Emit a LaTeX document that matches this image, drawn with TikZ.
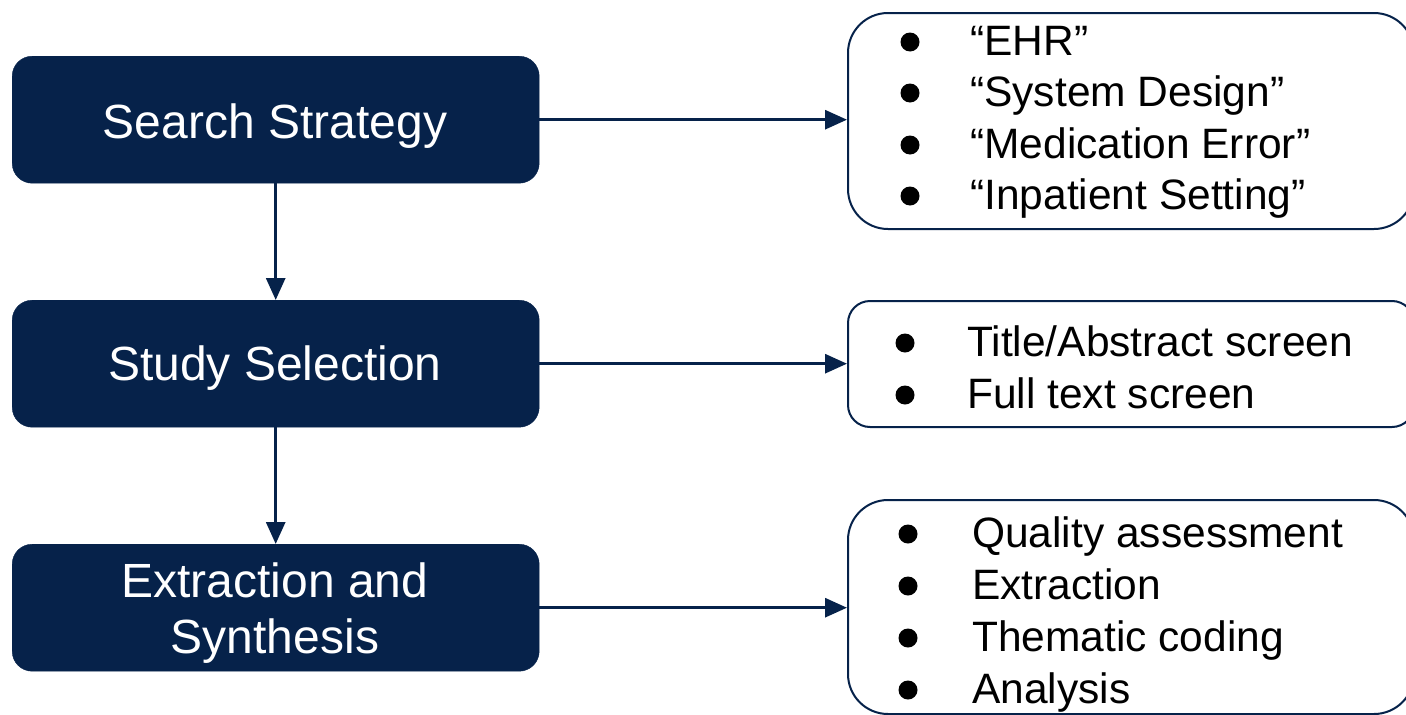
\documentclass[tikz,border=0pt]{standalone}
\usepackage{fontspec}
\setmainfont{Liberation Sans}
\usetikzlibrary{arrows.meta}
\definecolor{navy}{RGB}{6,34,74}
\begin{document}
\begin{tikzpicture}[x=1pt,y=-1pt,
  stepbox/.style={fill=navy,draw=navy,rounded corners=20pt,inner sep=0pt,
    minimum width=527pt,minimum height=127pt,anchor=north west},
  listbox/.style={draw=navy,line width=2pt,fill=white,rounded corners=40pt,inner sep=0pt,anchor=north west},
  big/.style={text=white,font=\fontsize{48}{56}\selectfont,anchor=base,inner sep=0pt},
  item/.style={text=black,font=\fontsize{42.5}{50}\selectfont,anchor=base west,inner sep=0pt},
  bul/.style={circle,fill=black,minimum size=19pt,inner sep=0pt},
  conn/.style={draw=navy,line width=3pt,-{Triangle[length=22pt,width=19pt]}}
]
\useasboundingbox (0,0) rectangle (1406,715);
% left step boxes
\node[stepbox] (s1) at (12,56) {};
\node[stepbox] (s2) at (12,300) {};
\node[stepbox] (s3) at (12,544) {};
\node[big] (t1) at (275,138) {Search Strategy};
\node[big] (t2) at (275,380) {Study Selection};
\node[big] (t3a) at (275,597) {Extraction and};
\node[big] (t3b) at (275,653) {Synthesis};
% right list boxes
\node[listbox,minimum width=566pt,minimum height=216pt] (r1) at (847,12) {};
\node[listbox,minimum width=566pt,minimum height=126pt,rounded corners=22pt] (r2) at (847,300) {};
\node[listbox,minimum width=566pt,minimum height=214pt] (r3) at (847,499) {};
% list A
\node[bul] (b11) at (910,42) {};
\node[bul] (b12) at (910,93) {};
\node[bul] (b13) at (910,145) {};
\node[bul] (b14) at (910,196) {};
\node[item] (i11) at (970,55) {“EHR”};
\node[item] (i12) at (970,106) {“System Design”};
\node[item] (i13) at (970,158) {“Medication Error”};
\node[item] (i14) at (970,209) {“Inpatient Setting”};
% list B
\node[bul] (b21) at (905,343) {};
\node[bul] (b22) at (905,395) {};
\node[item] (i21) at (967,356) {Title/Abstract screen};
\node[item] (i22) at (967,408) {Full text screen};
% list C
\node[bul] (b31) at (908,534) {};
\node[bul] (b32) at (908,586) {};
\node[bul] (b33) at (908,638) {};
\node[bul] (b34) at (908,690) {};
\node[item] (i31) at (972,547) {Quality assessment};
\node[item] (i32) at (972,599) {Extraction};
\node[item] (i33) at (972,651) {Thematic coding};
\node[item] (i34) at (972,703) {Analysis};
% connectors
\draw[conn] (s1.south) -- (s2.north);
\draw[conn] (s2.south) -- (s3.north);
\draw[conn] (s1.east) -- (s1.east -| r1.west);
\draw[conn] (s2.east) -- (s2.east -| r2.west);
\draw[conn] (s3.east) -- (s3.east -| r3.west);
\end{tikzpicture}
\end{document}
